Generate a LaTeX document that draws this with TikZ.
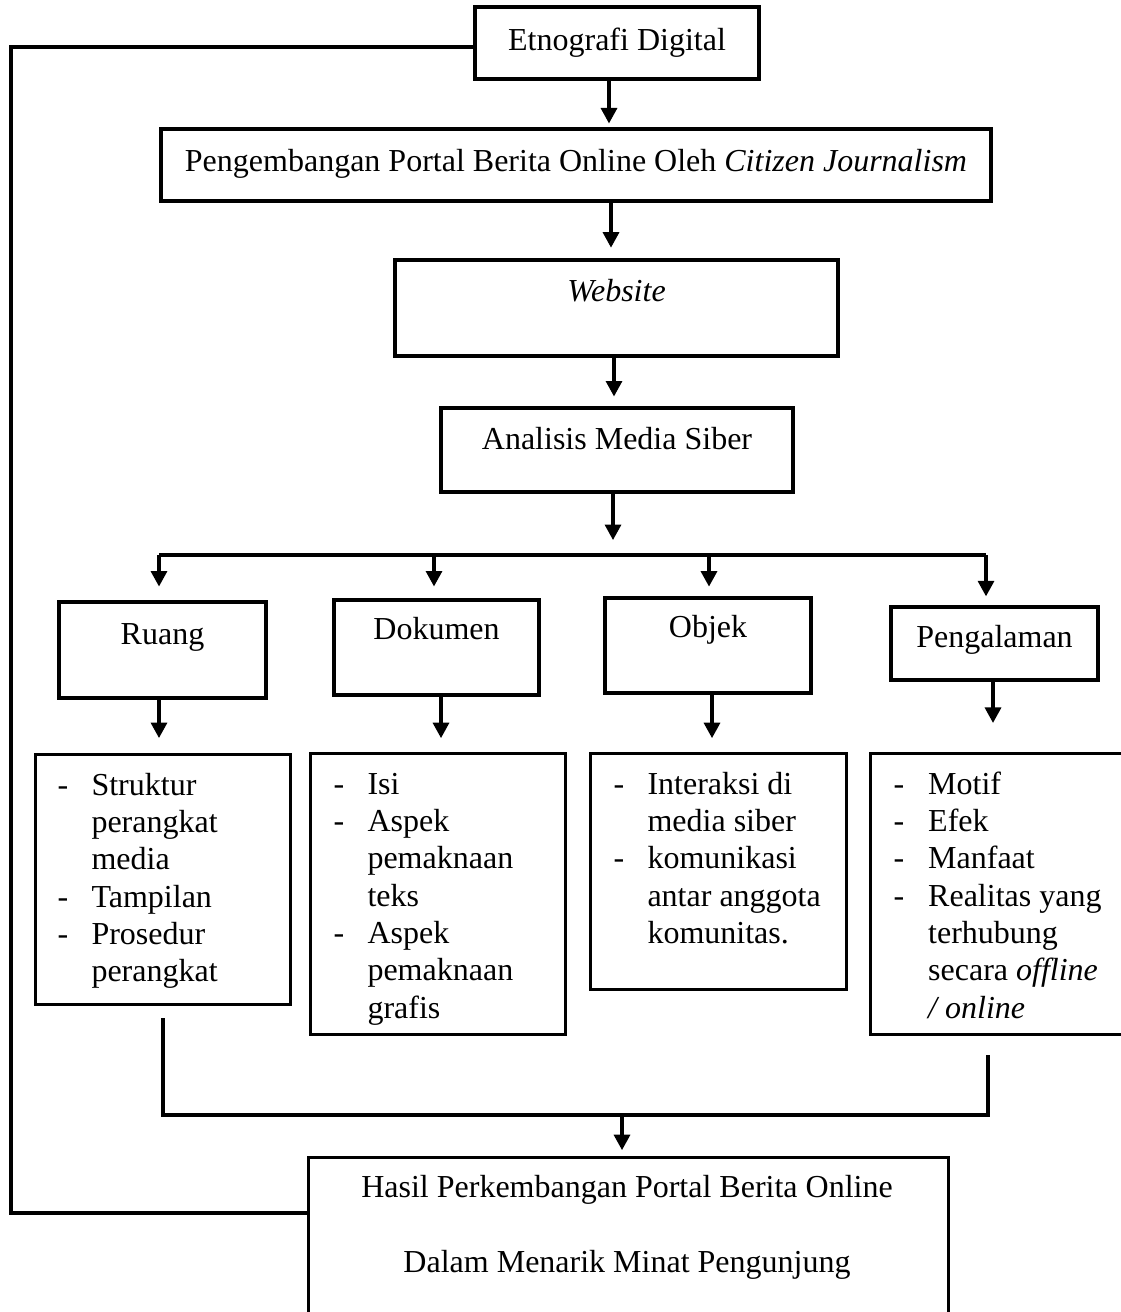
\documentclass[tikz,border=0pt]{standalone}
\usepackage{fontspec}
\setmainfont{Liberation Serif}
\usetikzlibrary{arrows.meta,calc}
\begin{document}
\begin{tikzpicture}[x=0.375pt,y=-0.375pt,
  font=\fontsize{12}{14}\selectfont,
  box/.style={draw,line width=1.2pt,inner xsep=0pt,inner ysep=0pt,anchor=base},
  lbox/.style={draw,line width=1.2pt,inner sep=0pt,anchor=north west},
  ltext/.style={anchor=base west,inner sep=0pt},
  conn/.style={line width=1.2pt},
  arr/.style={line width=1.2pt,-{Triangle[length=5.8pt,width=6pt]}}]
\useasboundingbox (0,0) rectangle (1121,1312);

% main boxes
\node[box,minimum width=106.5pt,text height=16.5pt,text depth=10.5pt] (etno) at (617,51) {Etnografi Digital};
\node[box,minimum width=311.25pt,text height=16.1pt,text depth=10.9pt] (peng) at (576,172) {Pengembangan Portal Berita Online Oleh \textit{Citizen Journalism}};
\node[box,minimum width=166.1pt,text height=15.4pt,text depth=20.6pt] (web) at (616.5,301) {\textit{Website}};
\node[box,minimum width=132pt,text height=15.4pt,text depth=16.1pt] (anal) at (617,449) {Analisis Media Siber};

\node[box,minimum width=77.6pt,text height=15.75pt,text depth=20.25pt] (ruang) at (162.5,644) {Ruang};
\node[box,minimum width=76.9pt,text height=14.6pt,text depth=21pt] (dok) at (436.5,639) {Dokumen};
\node[box,minimum width=77.25pt,text height=14.6pt,text depth=21pt] (obj) at (708,637) {Objek};
\node[box,minimum width=77.6pt,text height=15pt,text depth=12.4pt] (pengal) at (994.5,647) {Pengalaman};

% list boxes
\node[lbox,minimum width=95.6pt,minimum height=93.75pt] (l1) at (34,753) {};
\node[lbox,minimum width=95.6pt,minimum height=105.4pt] (l2) at (309,752) {};
\node[lbox,minimum width=96pt,minimum height=88.5pt] (l3) at (589,752) {};
\node[lbox,minimum width=97.9pt,minimum height=105.4pt] (l4) at (869,752) {};

\node[ltext] (t1) at (57,795) {\begin{tabular}[t]{@{}p{12.75pt}@{}l@{}}
-&Struktur\\ &perangkat\\ &media\\ -&Tampilan\\ -&Prosedur\\ &perangkat\end{tabular}};
\node[ltext] (t2) at (333,794) {\begin{tabular}[t]{@{}p{12.75pt}@{}l@{}}
-&Isi\\ -&Aspek\\ &pemaknaan\\ &teks\\ -&Aspek\\ &pemaknaan\\ &grafis\end{tabular}};
\node[ltext] (t3) at (613,794) {\begin{tabular}[t]{@{}p{12.75pt}@{}l@{}}
-&Interaksi di\\ &media siber\\ -&komunikasi\\ &antar anggota\\ &komunitas.\end{tabular}};
\node[ltext] (t4) at (893,794) {\begin{tabular}[t]{@{}p{13pt}@{}l@{}}
-&Motif\\ -&Efek\\ -&Manfaat\\ -&Realitas yang\\ &terhubung\\ &secara \textit{offline}\\ &\textit{/ online}\end{tabular}};

% final box
\node[draw,line width=1.2pt,inner sep=0pt,anchor=north west,minimum width=240pt,minimum height=66pt] (hasil) at (307,1156) {};
\node[anchor=base,inner sep=0pt] (h1) at (627,1197) {Hasil Perkembangan Portal Berita Online};
\node[anchor=base,inner sep=0pt] (h2) at (627,1272) {Dalam Menarik Minat Pengunjung};

% main chain
\draw[arr,shorten >=1.5pt] (etno.south -| 609,0) -- (peng.north -| 609,0);
\draw[arr,shorten >=4pt] (peng.south -| 611,0) -- (web.north -| 611,0);
\draw[arr,shorten >=3.7pt] (web.south -| 614,0) -- (anal.north -| 614,0);
\coordinate (bc) at (613,555);
\coordinate (b1) at (159,555);
\coordinate (b2) at (434,555);
\coordinate (b3) at (709,555);
\coordinate (b4) at (986,555);
\draw[arr,shorten >=5.6pt] (anal.south -| bc) -- (bc);
\draw[conn] (b1) -- (b4);
\draw[arr,shorten >=5.2pt] (b1) -- (ruang.north -| b1);
\draw[arr,shorten >=4.5pt] (b2) -- (dok.north -| b2);
\draw[arr,shorten >=3.7pt] (b3) -- (obj.north -| b3);
\draw[arr,shorten >=3.4pt] (b4) -- (pengal.north -| b4);

% boxes to lists
\draw[arr,shorten >=5.6pt] (ruang.south -| 159,0) -- (l1.north -| 159,0);
\draw[arr,shorten >=5.2pt] (dok.south -| 441,0) -- (l2.north -| 441,0);
\draw[arr,shorten >=5.2pt] (obj.south -| 712,0) -- (l3.north -| 712,0);
\draw[arr,shorten >=10.9pt] (pengal.south -| 993,0) -- (l4.north -| 993,0);

% merge
\coordinate (m1) at (163,1115);
\coordinate (m2) at (988,1115);
\coordinate (mc) at (622,1115);
\draw[conn,shorten <=4.5pt,shorten >=7pt] (l1.south -| m1) -- (m1) -- (m2) -- (l4.south -| m2);
\draw[arr,shorten >=2.2pt] (mc) -- (hasil.north -| mc);

% feedback line
\coordinate (fbtop) at (11,47);
\coordinate (fbbot) at (11,1213);
\draw[line width=1.5pt] (etno.west |- fbtop) -- (fbtop) -- (fbbot) -- (hasil.west |- fbbot);
\end{tikzpicture}
\end{document}
